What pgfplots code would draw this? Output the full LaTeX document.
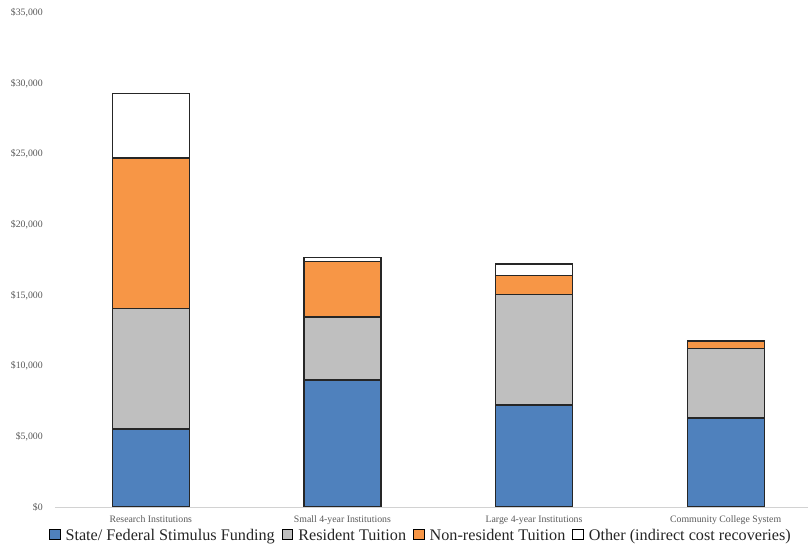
\documentclass[border=0pt]{standalone}
\usepackage{fontspec}
\setmainfont{Liberation Serif}
\usepackage{pgfplots}
\pgfplotsset{compat=1.18}

\definecolor{cblue}{HTML}{4F81BD}
\definecolor{cgray}{HTML}{BFBFBF}
\definecolor{corange}{HTML}{F79646}
\definecolor{ctext}{HTML}{595959}
\definecolor{cedge}{HTML}{262626}

\begin{document}
\begin{tikzpicture}
\begin{axis}[
  at={(0,0)}, anchor=south west,
  scale only axis,
  width=753pt, height=494pt,
  ybar stacked,
  bar width=77pt,
  xmin=-0.5, xmax=3.43,
  ymin=0, ymax=35000,
  xtick={0,1,2,3},
  xticklabels={Research Institutions, Small 4-year Institutions, Large 4-year Institutions, Community College System},
  ytick={0,5000,10000,15000,20000,25000,30000,35000},
  yticklabel={\$\pgfmathprintnumber{\tick}},
  /pgf/number format/.cd, 1000 sep={,}, fixed, assume math mode=true,
  /pgfplots/.cd,
  scaled y ticks=false,
  axis lines*=left,
  x axis line style={draw=gray!35, line width=0.9pt},
  y axis line style={draw=none},
  major tick length=0pt,
  tick label style={font=\fontsize{9.8}{11}\selectfont, text=ctext},
  yticklabel style={anchor=east, inner sep=0pt, xshift=-12pt},
  xticklabel style={anchor=north, inner sep=0pt, yshift=-9pt},
  every axis plot/.append style={draw=cedge, line width=1.2pt},
  legend style={at={(0.486,-0.057)}, anchor=center, draw=none, fill=none,
    font=\fontsize{16.2}{18}\selectfont, text=black!85,
    legend columns=-1, inner sep=0pt,
    /tikz/every odd column/.append style={column sep=3pt},
    /tikz/every even column/.append style={column sep=5pt}},
  legend image code/.code={\draw[#1, draw=black, line width=1pt] (0pt,-4.5pt) rectangle (10.5pt,6pt);},
]
\addplot[fill=cblue] coordinates {(0,5520) (1,9000) (2,7220) (3,6300)};
\addplot[fill=cgray] coordinates {(0,8570) (1,4460) (2,7840) (3,4940)};
\addplot[fill=corange] coordinates {(0,10630) (1,3960) (2,1320) (3,520)};
\addplot[fill=white] coordinates {(0,4600) (1,280) (2,830) (3,0)};
\legend{State/ Federal Stimulus Funding, Resident Tuition, Non-resident Tuition, Other (indirect cost recoveries)}
\end{axis}
\pgfresetboundingbox
\useasboundingbox (-55pt,-39pt) rectangle (754pt,507pt);
\end{tikzpicture}
\end{document}
